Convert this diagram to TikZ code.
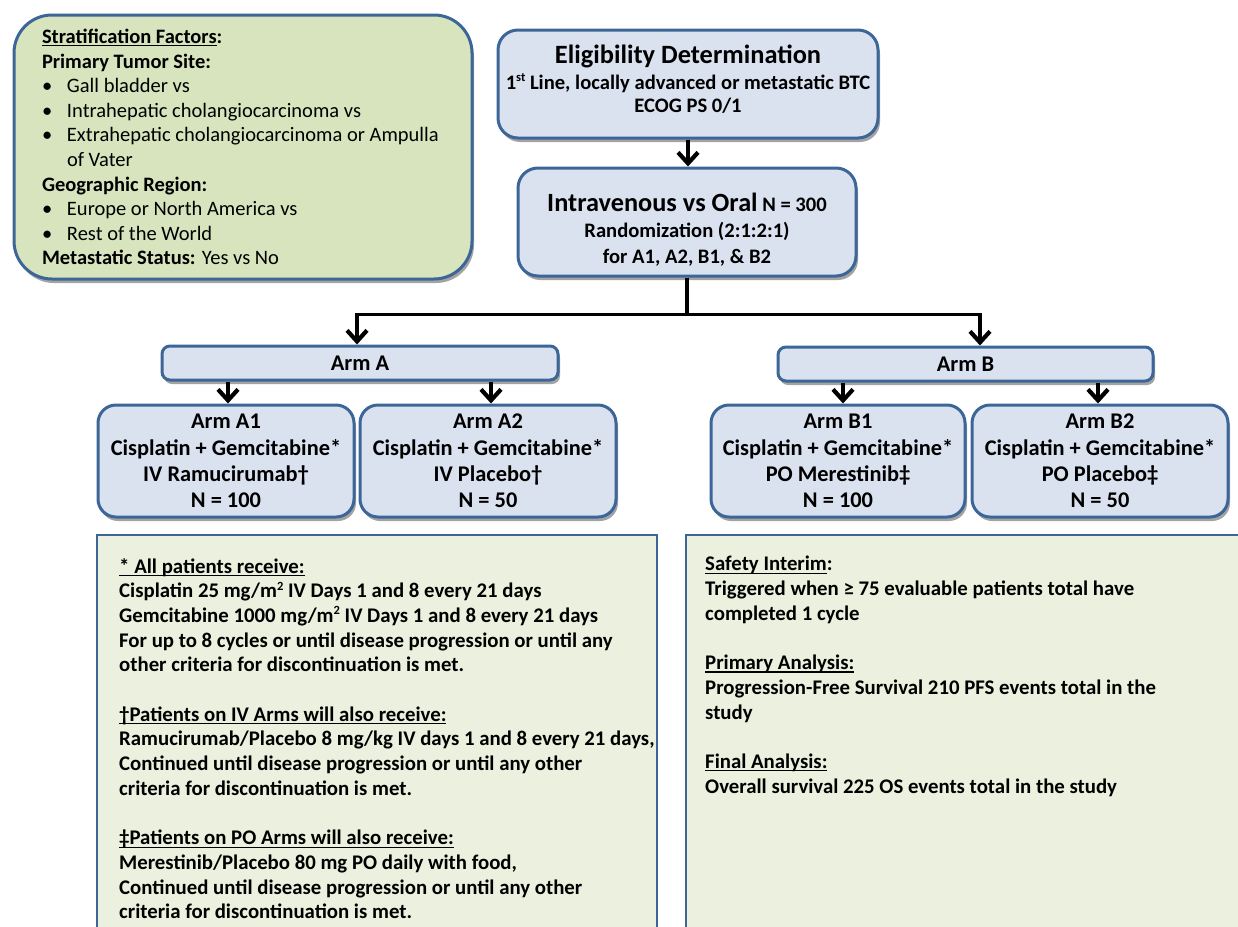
\documentclass[tikz,border=0pt]{standalone}
\usepackage{fontspec}
\setmainfont{Carlito}
\usetikzlibrary{arrows.meta,shadows}
\newcommand\myul[1]{\setbox0\hbox{#1}\rlap{\rule[-3pt]{\wd0}{1.2pt}}\box0}
\newcommand\mysup[1]{\raisebox{7.5pt}{\fontsize{12.5}{12.5}\selectfont #1}}
\definecolor{bfill}{HTML}{DAE2F0}
\definecolor{bdraw}{HTML}{3D6698}
\definecolor{gfill}{HTML}{D7E4BD}
\definecolor{lgfill}{HTML}{EBF1DE}
\tikzset{
  boxbase/.style={draw=bdraw, line width=3pt, inner sep=0pt, align=center,
    drop shadow={shadow xshift=2pt, shadow yshift=-4pt, opacity=0.45, fill=black!80}},
  armbox/.style={boxbase, fill=bfill, rounded corners=18pt, minimum width=256pt, minimum height=112pt,
    font=\fontsize{22.4}{26.3}\selectfont\bfseries},
  topbox/.style={boxbase, fill=bfill, rounded corners=20pt, minimum height=108pt},
  toptext/.style={inner sep=0pt, align=center, font=\fontsize{20.6}{24}\selectfont\bfseries},
  headbox/.style={boxbase, fill=bfill, rounded corners=8pt, minimum height=34pt,
    font=\fontsize{22.4}{26}\selectfont\bfseries},
  notebox/.style={draw=bdraw, line width=2.5pt, fill=lgfill, inner sep=0pt},
  notetext/.style={anchor=north west, inner sep=0pt, align=left,
    font=\fontsize{20.8}{24.7}\selectfont\bfseries},
  arr/.style={line width=3.4pt, -{Straight Barb[length=11pt,width=20pt,line width=4.2pt]}},
  conn/.style={line width=3.4pt}
}
\begin{document}
\begin{tikzpicture}[x=1pt,y=-1pt]
\clip (0,0) rectangle (1238,926);
\fill[white] (0,0) rectangle (1238,926);

% stratification factors
\node[boxbase, fill=gfill, rounded corners=38pt, minimum width=458pt, minimum height=264pt,
  text width=402pt, align=flush left, font=\fontsize{20.5}{24.6}\selectfont] (strat) at (243,147) {%
\textbf{\myul{Stratification Factors}:}\\
\textbf{Primary Tumor Site:}\\
\makebox[25pt][l]{\textbullet}Gall bladder vs\\
\makebox[25pt][l]{\textbullet}Intrahepatic cholangiocarcinoma vs\\
\makebox[25pt][l]{\textbullet}\mbox{Extrahepatic cholangiocarcinoma or Ampulla}\\
\hspace*{25pt}of Vater\\
\textbf{Geographic Region:}\\
\makebox[25pt][l]{\textbullet}Europe or North America vs\\
\makebox[25pt][l]{\textbullet}Rest of the World\\
\textbf{Metastatic Status:} Yes vs No};

% top boxes
\node[topbox, minimum width=380pt] (elig) at (688,84) {};
\node[toptext] (eligT) at ([yshift=5pt]elig.center) {%
{\fontsize{26.4}{28}\selectfont Eligibility Determination}\\[2pt]
1\mysup{st} Line, locally advanced or metastatic BTC\\[-1pt]
ECOG PS 0/1};
\node[topbox, minimum width=338pt] (rand) at (687,222) {};
\node[toptext] (randT) at ([yshift=-8pt]rand.center) {%
{\fontsize{26.3}{28}\selectfont Intravenous vs Oral} N = 300\\[2pt]
Randomization (2:1:2:1)\\[2pt]
for A1, A2, B1, \& B2};

% arm headers
\node[headbox, minimum width=396pt] (armA) at (360,363) {Arm A};
\node[headbox, minimum width=375pt] (armB) at (965.5,364) {Arm B};

% arms
\node[armbox] (a1) at (226,461) {Arm A1\\Cisplatin + Gemcitabine*\\IV Ramucirumab†\\N = 100};
\node[armbox] (a2) at (488,461) {Arm A2\\Cisplatin + Gemcitabine*\\IV Placebo†\\N = 50};
\node[armbox, minimum width=254pt] (b1) at (838,461) {Arm B1\\Cisplatin + Gemcitabine*\\PO Merestinib‡\\N = 100};
\node[armbox] (b2) at (1100,461) {Arm B2\\Cisplatin + Gemcitabine*\\PO Placebo‡\\N = 50};

% note boxes
\node[notebox, minimum width=560pt, minimum height=420pt] (noteL) at (377,745) {};
\node[notebox, minimum width=570pt, minimum height=420pt] (noteR) at (971,745) {};
\node[notetext] (noteLt) at (119,558) {%
\myul{* All patients receive:}\\
Cisplatin 25 mg/m\mysup{2} IV Days 1 and 8 every 21 days\\
Gemcitabine 1000 mg/m\mysup{2} IV Days 1 and 8 every 21 days\\
For up to 8 cycles or until disease progression or until any\\
other criteria for discontinuation is met.\\[24.7pt]
\myul{†Patients on IV Arms will also receive:}\\
Ramucirumab/Placebo 8 mg/kg IV days 1 and 8 every 21 days,\\
Continued until disease progression or until any other\\
criteria for discontinuation is met.\\[24.7pt]
\myul{‡Patients on PO Arms will also receive:}\\
Merestinib/Placebo 80 mg PO daily with food,\\
Continued until disease progression or until any other\\
criteria for discontinuation is met.};
\node[notetext] (noteRt) at (705,556) {%
\myul{Safety Interim}:\\
Triggered when ≥ 75 evaluable patients total have\\
completed 1 cycle\\[24.7pt]
\myul{Primary Analysis:}\\
Progression-Free Survival 210 PFS events total in the\\
study\\[24.7pt]
\myul{Final Analysis:}\\
Overall survival 225 OS events total in the study};

% connectors
\draw[arr] (elig.south) -- (elig.south |- rand.north);
\coordinate (split) at ([yshift=-37pt]rand.south);
\draw[conn] (rand.south) -- (split);
\draw[arr] (split) -| ([xshift=-3pt]armA.north);
\draw[arr] (split) -| ([xshift=14.5pt]armB.north);
\draw[arr] ([xshift=2pt]armA.south -| a1.north) -- ([xshift=2pt]a1.north);
\draw[arr] ([xshift=3pt]armA.south -| a2.north) -- ([xshift=3pt]a2.north);
\draw[arr] ([xshift=5pt]armB.south -| b1.north) -- ([xshift=5pt]b1.north);
\draw[arr] ([xshift=-2pt]armB.south -| b2.north) -- ([xshift=-2pt]b2.north);
\end{tikzpicture}
\end{document}
